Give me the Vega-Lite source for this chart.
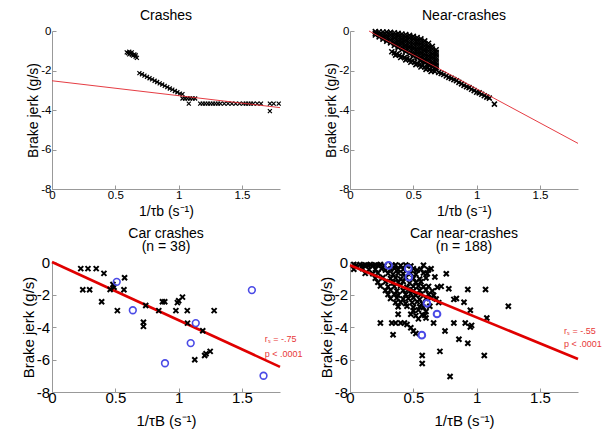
{
"$schema": "https://vega.github.io/schema/vega-lite/v6.json",
"padding": {"left": 21, "top": 9, "right": 5, "bottom": 0},
"config": {
  "font": "Liberation Sans",
  "view": {"stroke": null},
  "axis": {"grid": false, "domainColor": "#999999", "tickColor": "#999999", "tickSize": -4, "labelColor": "black", "titleColor": "black", "titleFontWeight": "normal", "labelFont": "Liberation Sans", "titleFont": "Liberation Sans", "labelOverlap": false, "labelBound": false, "labelFlush": false, "tickCount": 10},
  "title": {"fontWeight": "normal", "font": "Liberation Sans", "fontSize": 14, "color": "black", "frame": "group"}
},
"datasets": {
  "tl_pts": [
    {"x":0.59,"y":-1.08},{"x":0.60,"y":-1.12},{"x":0.61,"y":-1.05},{"x":0.61,"y":-1.18},{"x":0.62,"y":-1.12},{"x":0.63,"y":-1.2},{"x":0.63,"y":-1.08},{"x":0.64,"y":-1.25},{"x":0.65,"y":-1.18},{"x":0.66,"y":-1.3},{"x":0.67,"y":-1.36},{"x":0.66,"y":-1.22},
    {"x":0.69,"y":-2.13},{"x":0.71,"y":-2.19},{"x":0.73,"y":-2.26},{"x":0.75,"y":-2.32},{"x":0.77,"y":-2.39},{"x":0.79,"y":-2.45},{"x":0.81,"y":-2.52},{"x":0.83,"y":-2.58},{"x":0.85,"y":-2.65},{"x":0.87,"y":-2.71},{"x":0.89,"y":-2.78},{"x":0.91,"y":-2.84},{"x":0.93,"y":-2.91},{"x":0.95,"y":-2.97},{"x":0.97,"y":-3.04},{"x":0.99,"y":-3.1},{"x":1.01,"y":-3.17},{"x":1.03,"y":-3.2},
    {"x":1.03,"y":-3.42},{"x":1.05,"y":-3.42},{"x":1.07,"y":-3.42},{"x":1.09,"y":-3.42},{"x":1.11,"y":-3.42},{"x":1.13,"y":-3.42},
    {"x":1.08,"y":-3.68},
    {"x":1.17,"y":-3.68},{"x":1.19,"y":-3.68},{"x":1.21,"y":-3.68},{"x":1.23,"y":-3.68},{"x":1.25,"y":-3.68},{"x":1.27,"y":-3.68},{"x":1.29,"y":-3.68},{"x":1.31,"y":-3.68},{"x":1.33,"y":-3.68},{"x":1.36,"y":-3.68},{"x":1.39,"y":-3.68},{"x":1.42,"y":-3.68},{"x":1.45,"y":-3.68},{"x":1.48,"y":-3.68},{"x":1.51,"y":-3.68},{"x":1.53,"y":-3.68},{"x":1.55,"y":-3.68},{"x":1.57,"y":-3.68},{"x":1.59,"y":-3.68},{"x":1.62,"y":-3.68},{"x":1.65,"y":-3.68},{"x":1.72,"y":-3.68},{"x":1.75,"y":-3.68},{"x":1.79,"y":-3.68},
    {"x":1.72,"y":-4.06}
  ],
  "tl_fit": [{"x":0,"y":-2.52},{"x":1.8,"y":-3.88}],
  "tr_pts": [
    {"x":0.20,"y":-0.03},{"x":0.20,"y":-0.12},{"x":0.20,"y":-0.2},
    {"x":0.23,"y":-0.04},{"x":0.23,"y":-0.17},{"x":0.23,"y":-0.3},
    {"x":0.26,"y":-0.05},{"x":0.26,"y":-0.18},{"x":0.26,"y":-0.3},{"x":0.26,"y":-0.41},
    {"x":0.29,"y":-0.06},{"x":0.29,"y":-0.19},{"x":0.29,"y":-0.32},{"x":0.29,"y":-0.45},{"x":0.29,"y":-0.52},
    {"x":0.32,"y":-0.07},{"x":0.32,"y":-0.2},{"x":0.32,"y":-0.33},{"x":0.32,"y":-0.46},{"x":0.32,"y":-0.6},
    {"x":0.35,"y":-0.09},{"x":0.35,"y":-0.22},{"x":0.35,"y":-0.35},{"x":0.35,"y":-0.48},{"x":0.35,"y":-0.61},{"x":0.35,"y":-0.73},
    {"x":0.38,"y":-0.12},{"x":0.38,"y":-0.25},{"x":0.38,"y":-0.38},{"x":0.38,"y":-0.51},{"x":0.38,"y":-0.64},{"x":0.38,"y":-0.77},{"x":0.38,"y":-0.85},
    {"x":0.41,"y":-0.15},{"x":0.41,"y":-0.28},{"x":0.41,"y":-0.41},{"x":0.41,"y":-0.54},{"x":0.41,"y":-0.67},{"x":0.41,"y":-0.8},{"x":0.41,"y":-0.94},
    {"x":0.44,"y":-0.18},{"x":0.44,"y":-0.31},{"x":0.44,"y":-0.44},{"x":0.44,"y":-0.57},{"x":0.44,"y":-0.7},{"x":0.44,"y":-0.83},{"x":0.44,"y":-0.96},{"x":0.44,"y":-1.05},
    {"x":0.47,"y":-0.22},{"x":0.47,"y":-0.35},{"x":0.47,"y":-0.48},{"x":0.47,"y":-0.61},{"x":0.47,"y":-0.74},{"x":0.47,"y":-0.87},{"x":0.47,"y":-1.0},{"x":0.47,"y":-1.15},
    {"x":0.50,"y":-0.27},{"x":0.50,"y":-0.4},{"x":0.50,"y":-0.53},{"x":0.50,"y":-0.66},{"x":0.50,"y":-0.79},{"x":0.50,"y":-0.92},{"x":0.50,"y":-1.05},{"x":0.50,"y":-1.18},{"x":0.50,"y":-1.27},
    {"x":0.53,"y":-0.33},{"x":0.53,"y":-0.46},{"x":0.53,"y":-0.59},{"x":0.53,"y":-0.72},{"x":0.53,"y":-0.85},{"x":0.53,"y":-0.98},{"x":0.53,"y":-1.11},{"x":0.53,"y":-1.24},{"x":0.53,"y":-1.37},
    {"x":0.56,"y":-0.4},{"x":0.56,"y":-0.53},{"x":0.56,"y":-0.66},{"x":0.56,"y":-0.79},{"x":0.56,"y":-0.92},{"x":0.56,"y":-1.05},{"x":0.56,"y":-1.18},{"x":0.56,"y":-1.31},{"x":0.56,"y":-1.44},{"x":0.56,"y":-1.5},
    {"x":0.59,"y":-0.5},{"x":0.59,"y":-0.63},{"x":0.59,"y":-0.76},{"x":0.59,"y":-0.89},{"x":0.59,"y":-1.02},{"x":0.59,"y":-1.15},{"x":0.59,"y":-1.28},{"x":0.59,"y":-1.41},{"x":0.59,"y":-1.54},{"x":0.59,"y":-1.6},
    {"x":0.62,"y":-0.62},{"x":0.62,"y":-0.75},{"x":0.62,"y":-0.88},{"x":0.62,"y":-1.01},{"x":0.62,"y":-1.14},{"x":0.62,"y":-1.27},{"x":0.62,"y":-1.4},{"x":0.62,"y":-1.53},{"x":0.62,"y":-1.66},{"x":0.62,"y":-1.71},
    {"x":0.65,"y":-0.78},{"x":0.65,"y":-0.91},{"x":0.65,"y":-1.04},{"x":0.65,"y":-1.17},{"x":0.65,"y":-1.3},{"x":0.65,"y":-1.43},{"x":0.65,"y":-1.56},{"x":0.65,"y":-1.69},{"x":0.65,"y":-1.82},
    {"x":0.68,"y":-0.95},{"x":0.68,"y":-1.08},{"x":0.68,"y":-1.21},{"x":0.68,"y":-1.34},{"x":0.68,"y":-1.47},{"x":0.68,"y":-1.6},{"x":0.68,"y":-1.73},{"x":0.68,"y":-1.86},{"x":0.68,"y":-1.95},
    {"x":0.33,"y":-1.05},{"x":0.35,"y":-1.11},{"x":0.37,"y":-1.17},{"x":0.39,"y":-1.23},{"x":0.41,"y":-1.29},{"x":0.43,"y":-1.35},{"x":0.45,"y":-1.4},{"x":0.47,"y":-1.46},{"x":0.49,"y":-1.52},{"x":0.51,"y":-1.58},{"x":0.53,"y":-1.64},{"x":0.55,"y":-1.7},{"x":0.57,"y":-1.76},{"x":0.59,"y":-1.82},{"x":0.61,"y":-1.87},{"x":0.63,"y":-1.93},{"x":0.65,"y":-1.99},{"x":0.67,"y":-2.05},
    {"x":0.36,"y":-1.22},{"x":0.40,"y":-1.34},{"x":0.44,"y":-1.46},{"x":0.48,"y":-1.58},{"x":0.52,"y":-1.7},{"x":0.56,"y":-1.82},{"x":0.60,"y":-1.94},{"x":0.64,"y":-2.05},
    {"x":0.70,"y":-2.1},{"x":0.72,"y":-2.15},{"x":0.74,"y":-2.2},{"x":0.76,"y":-2.28},{"x":0.78,"y":-2.35},{"x":0.80,"y":-2.4},{"x":0.82,"y":-2.46},{"x":0.84,"y":-2.52},{"x":0.86,"y":-2.6},{"x":0.88,"y":-2.68},{"x":0.90,"y":-2.75},{"x":0.92,"y":-2.82},{"x":0.94,"y":-2.87},{"x":0.96,"y":-2.95},{"x":0.98,"y":-3.02},{"x":1.00,"y":-3.1},{"x":1.02,"y":-3.13},{"x":1.04,"y":-3.2},{"x":1.06,"y":-3.28},{"x":1.08,"y":-3.35},{"x":1.10,"y":-3.4},
    {"x":1.14,"y":-3.7}
  ],
  "tr_fit": [{"x":0.15,"y":0},{"x":1.8,"y":-5.69}],
  "bl_x": [
    {"x":0.227,"y":-0.41},{"x":0.284,"y":-0.41},{"x":0.349,"y":-0.41},{"x":0.41,"y":-0.7},{"x":0.243,"y":-1.71},{"x":0.297,"y":-1.71},{"x":0.392,"y":-2.45},{"x":0.459,"y":-1.69},{"x":0.481,"y":-1.38},{"x":0.49,"y":-1.55},{"x":0.573,"y":-0.97},{"x":0.568,"y":-1.71},{"x":0.516,"y":-2.99},{"x":0.722,"y":-3.71},{"x":0.722,"y":-3.96},{"x":0.74,"y":-2.68},{"x":0.843,"y":-2.99},{"x":0.872,"y":-2.45},{"x":0.89,"y":-2.45},{"x":0.978,"y":-2.99},{"x":0.99,"y":-2.5},{"x":1.0,"y":-2.38},{"x":1.03,"y":-2.16},{"x":1.068,"y":-2.99},{"x":1.07,"y":-3.76},{"x":1.19,"y":-4.23},{"x":1.127,"y":-6.02},{"x":1.205,"y":-5.75},{"x":1.216,"y":-5.65},{"x":1.249,"y":-5.5},{"x":1.28,"y":-2.99}
  ],
  "bl_o": [
    {"x":0.511,"y":-1.22},{"x":0.638,"y":-2.97},{"x":1.135,"y":-3.76},{"x":1.095,"y":-4.99},{"x":0.892,"y":-6.23},{"x":1.578,"y":-1.73},{"x":1.67,"y":-7.0}
  ],
  "bl_fit": [{"x":0,"y":0},{"x":1.8,"y":-6.45}],
  "bl_txt": [{"x":1.68,"y":-4.72,"t":"rₛ = -.75"},{"x":1.68,"y":-5.65,"t":"p < .0001"}],
  "br_x": [
    {"x":0.03,"y":-0.16},{"x":0.05,"y":-0.2},{"x":0.08,"y":-0.15},{"x":0.10,"y":-0.22},{"x":0.12,"y":-0.18},{"x":0.14,"y":-0.2},{"x":0.16,"y":-0.15},{"x":0.18,"y":-0.22},{"x":0.20,"y":-0.18},{"x":0.22,"y":-0.2},{"x":0.24,"y":-0.15},{"x":0.27,"y":-0.22},{"x":0.33,"y":-0.2},{"x":0.36,"y":-0.18},{"x":0.40,"y":-0.22},{"x":0.44,"y":-0.18},{"x":0.48,"y":-0.25},{"x":0.58,"y":-0.2},
    {"x":0.03,"y":-0.45},{"x":0.10,"y":-0.42},{"x":0.15,"y":-0.48},{"x":0.20,"y":-0.45},{"x":0.25,"y":-0.42},{"x":0.28,"y":-0.5},{"x":0.32,"y":-0.45},{"x":0.35,"y":-0.4},{"x":0.38,"y":-0.48},{"x":0.42,"y":-0.45},{"x":0.50,"y":-0.42},{"x":0.53,"y":-0.5},{"x":0.56,"y":-0.45},{"x":0.62,"y":-0.48},{"x":0.64,"y":-0.42},
    {"x":0.12,"y":-0.7},{"x":0.18,"y":-0.72},{"x":0.22,"y":-0.68},{"x":0.30,"y":-0.7},{"x":0.34,"y":-0.75},{"x":0.38,"y":-0.68},{"x":0.42,"y":-0.72},{"x":0.48,"y":-0.7},{"x":0.52,"y":-0.75},{"x":0.58,"y":-0.68},{"x":0.61,"y":-0.72},{"x":0.76,"y":-0.72},
    {"x":0.20,"y":-1.0},{"x":0.26,"y":-0.95},{"x":0.32,"y":-1.02},{"x":0.36,"y":-0.98},{"x":0.40,"y":-1.05},{"x":0.44,"y":-0.95},{"x":0.50,"y":-1.0},{"x":0.55,"y":-1.05},{"x":0.60,"y":-0.98},{"x":0.67,"y":-0.93},
    {"x":0.22,"y":-1.25},{"x":0.28,"y":-1.22},{"x":0.34,"y":-1.28},{"x":0.38,"y":-1.25},{"x":0.42,"y":-1.2},{"x":0.47,"y":-1.3},{"x":0.52,"y":-1.25},{"x":0.56,"y":-1.22},
    {"x":0.24,"y":-1.48},{"x":0.30,"y":-1.52},{"x":0.35,"y":-1.5},{"x":0.40,"y":-1.45},{"x":0.45,"y":-1.55},{"x":0.50,"y":-1.5},{"x":0.54,"y":-1.48},{"x":0.58,"y":-1.52},{"x":0.62,"y":-1.5},{"x":0.69,"y":-1.55},{"x":0.72,"y":-1.5},
    {"x":0.28,"y":-1.75},{"x":0.32,"y":-1.72},{"x":0.37,"y":-1.78},{"x":0.42,"y":-1.75},{"x":0.46,"y":-1.7},{"x":0.50,"y":-1.78},{"x":0.55,"y":-1.75},{"x":0.60,"y":-1.72},{"x":0.65,"y":-1.78},{"x":0.78,"y":-1.65},{"x":0.93,"y":-1.69},{"x":1.07,"y":-1.69},
    {"x":0.30,"y":-2.0},{"x":0.35,"y":-1.98},{"x":0.38,"y":-2.05},{"x":0.44,"y":-2.0},{"x":0.48,"y":-1.95},{"x":0.52,"y":-2.05},{"x":0.56,"y":-2.0},{"x":0.62,"y":-1.98},{"x":0.66,"y":-2.05},
    {"x":0.32,"y":-2.25},{"x":0.37,"y":-2.22},{"x":0.42,"y":-2.28},{"x":0.46,"y":-2.25},{"x":0.50,"y":-2.2},{"x":0.55,"y":-2.3},{"x":0.60,"y":-2.25},{"x":0.64,"y":-2.22},{"x":0.68,"y":-2.28},{"x":0.82,"y":-2.3},{"x":0.84,"y":-2.25},
    {"x":0.36,"y":-2.5},{"x":0.40,"y":-2.48},{"x":0.44,"y":-2.55},{"x":0.49,"y":-2.5},{"x":0.53,"y":-2.45},{"x":0.57,"y":-2.55},{"x":0.70,"y":-2.5},{"x":0.90,"y":-2.47},
    {"x":0.38,"y":-2.75},{"x":0.45,"y":-2.72},{"x":0.50,"y":-2.78},{"x":0.55,"y":-2.75},{"x":0.58,"y":-2.8},{"x":0.63,"y":-2.72},{"x":1.25,"y":-2.72},
    {"x":0.50,"y":-3.0},{"x":0.54,"y":-2.95},{"x":0.60,"y":-3.05},{"x":0.95,"y":-2.97},
    {"x":0.38,"y":-3.22},{"x":0.48,"y":-3.22},{"x":0.52,"y":-3.3},{"x":0.57,"y":-3.25},{"x":0.59,"y":-3.28},
    {"x":0.54,"y":-3.5},{"x":0.60,"y":-3.45},{"x":1.08,"y":-3.45},
    {"x":0.24,"y":-3.75},{"x":0.33,"y":-3.75},{"x":0.36,"y":-3.75},{"x":0.40,"y":-3.75},{"x":0.43,"y":-3.75},{"x":0.66,"y":-3.75},{"x":0.82,"y":-3.75},{"x":0.91,"y":-3.75},{"x":0.96,"y":-3.9},{"x":0.95,"y":-4.0},
    {"x":0.45,"y":-3.85},{"x":0.48,"y":-4.05},{"x":0.50,"y":-4.25},{"x":0.52,"y":-4.4},
    {"x":0.75,"y":-4.25},{"x":0.34,"y":-4.47},
    {"x":0.86,"y":-4.75},{"x":0.93,"y":-5.0},{"x":0.71,"y":-5.5},{"x":0.57,"y":-5.75},{"x":1.06,"y":-5.75},{"x":0.57,"y":-6.25},{"x":0.79,"y":-7.05}
  ],
  "br_o": [
    {"x":0.305,"y":-0.21},{"x":0.46,"y":-0.41},{"x":0.465,"y":-0.93},{"x":0.607,"y":-2.54},{"x":0.687,"y":-3.2},{"x":0.567,"y":-4.5}
  ],
  "br_fit": [{"x":0,"y":-0.2},{"x":1.8,"y":-5.97}],
  "br_txt": [{"x":1.69,"y":-4.23,"t":"rₛ = -.55"},{"x":1.69,"y":-5.05,"t":"p < .0001"}]
},
"spacing": 8,
"vconcat": [
  {
    "spacing": 40,
    "hconcat": [
      {
        "width": 228, "height": 158,
        "title": {"text": "Crashes", "offset": 2},
        "layer": [
          {"data": {"name": "tl_pts"},
           "mark": {"type": "point", "shape": "M-1,-1L1,1M-1,1L1,-1", "filled": false, "color": "black", "strokeWidth": 1.2, "size": 16, "opacity": 1},
           "encoding": {
             "x": {"field": "x", "type": "quantitative", "scale": {"domain": [0, 1.8], "nice": false, "zero": false}, "axis": {"values": [0, 0.5, 1, 1.5], "tickCount": 10, "labelExpr": "'' + datum.value", "labelFontSize": 11.5, "titleFontSize": 14, "labelPadding": 4, "titlePadding": 3.5, "title": "1/τb (s⁻¹)"}},
             "y": {"field": "y", "type": "quantitative", "scale": {"domain": [-8, 0], "nice": false}, "axis": {"values": [0, -2, -4, -6, -8], "tickCount": 10, "labelOverlap": false, "labelExpr": "'' + datum.value", "labelFontSize": 11.5, "titleFontSize": 14, "labelPadding": 5, "titlePadding": 0, "title": "Brake jerk (g/s)"}}
           }},
          {"data": {"name": "tl_fit"},
           "mark": {"type": "line", "color": "#e2262e", "strokeWidth": 0.9},
           "encoding": {"x": {"field": "x", "type": "quantitative"}, "y": {"field": "y", "type": "quantitative"}}}
        ]
      },
      {
        "width": 228, "height": 158,
        "title": {"text": "Near-crashes", "offset": 2},
        "layer": [
          {"data": {"name": "tr_pts"},
           "mark": {"type": "point", "shape": "M-1,-1L1,1M-1,1L1,-1", "filled": false, "color": "black", "strokeWidth": 1.6, "size": 25, "opacity": 1},
           "encoding": {
             "x": {"field": "x", "type": "quantitative", "scale": {"domain": [0, 1.8], "nice": false, "zero": false}, "axis": {"values": [0, 0.5, 1, 1.5], "tickCount": 10, "labelExpr": "'' + datum.value", "labelFontSize": 11.5, "titleFontSize": 14, "labelPadding": 4, "titlePadding": 3.5, "title": "1/τb (s⁻¹)"}},
             "y": {"field": "y", "type": "quantitative", "scale": {"domain": [-8, 0], "nice": false}, "axis": {"values": [0, -2, -4, -6, -8], "tickCount": 10, "labelOverlap": false, "labelExpr": "'' + datum.value", "labelFontSize": 11.5, "titleFontSize": 14, "labelPadding": 5, "titlePadding": 0, "title": "Brake jerk (g/s)"}}
           }},
          {"data": {"name": "tr_fit"},
           "mark": {"type": "line", "color": "#e2262e", "strokeWidth": 0.9},
           "encoding": {"x": {"field": "x", "type": "quantitative"}, "y": {"field": "y", "type": "quantitative"}}}
        ]
      }
    ]
  },
  {
    "spacing": 16,
    "hconcat": [
      {
        "width": 228, "height": 130,
        "title": {"text": ["Car crashes", "(n = 38)"], "offset": 1, "lineHeight": 13.5},
        "layer": [
          {"data": {"name": "bl_fit"},
           "mark": {"type": "line", "color": "#e00000", "strokeWidth": 2.6},
           "encoding": {
             "x": {"field": "x", "type": "quantitative", "scale": {"domain": [0, 1.8], "nice": false, "zero": false}, "axis": {"values": [0, 0.5, 1, 1.5], "tickCount": 10, "labelExpr": "'' + datum.value", "labelFontSize": 15, "titleFontSize": 15, "labelPadding": 2.5, "titlePadding": 8, "title": "1/τB (s⁻¹)"}},
             "y": {"field": "y", "type": "quantitative", "scale": {"domain": [-8, 0], "nice": false}, "axis": {"values": [0, -2, -4, -6, -8], "tickCount": 10, "labelOverlap": false, "labelExpr": "'' + datum.value", "labelFontSize": 15, "titleFontSize": 15, "labelPadding": 6.5, "titlePadding": 0, "title": "Brake jerk (g/s)"}}
           }},
          {"data": {"name": "bl_x"},
           "mark": {"type": "point", "shape": "M-1,-1L1,1M-1,1L1,-1", "filled": false, "color": "black", "strokeWidth": 2, "size": 25, "opacity": 1},
           "encoding": {"x": {"field": "x", "type": "quantitative"}, "y": {"field": "y", "type": "quantitative"}}},
          {"data": {"name": "bl_o"},
           "mark": {"type": "point", "shape": "circle", "filled": false, "color": "#4b4be6", "strokeWidth": 1.6, "size": 45, "opacity": 1},
           "encoding": {"x": {"field": "x", "type": "quantitative"}, "y": {"field": "y", "type": "quantitative"}}},
          {"data": {"name": "bl_txt"},
           "mark": {"type": "text", "align": "left", "baseline": "middle", "fontSize": 9, "color": "#e83838"},
           "encoding": {"x": {"field": "x", "type": "quantitative"}, "y": {"field": "y", "type": "quantitative"}, "text": {"field": "t"}}}
        ]
      },
      {
        "width": 228, "height": 130,
        "title": {"text": ["Car near-crashes", "(n = 188)"], "offset": 1, "lineHeight": 13.5},
        "layer": [
          {"data": {"name": "br_x"},
           "mark": {"type": "point", "shape": "M-1,-1L1,1M-1,1L1,-1", "filled": false, "color": "black", "strokeWidth": 2.1, "size": 25, "opacity": 1},
           "encoding": {
             "x": {"field": "x", "type": "quantitative", "scale": {"domain": [0, 1.8], "nice": false, "zero": false}, "axis": {"values": [0, 0.5, 1, 1.5], "tickCount": 10, "labelExpr": "'' + datum.value", "labelFontSize": 15, "titleFontSize": 15, "labelPadding": 2.5, "titlePadding": 8, "title": "1/τB (s⁻¹)"}},
             "y": {"field": "y", "type": "quantitative", "scale": {"domain": [-8, 0], "nice": false}, "axis": {"values": [0, -2, -4, -6, -8], "tickCount": 10, "labelOverlap": false, "labelExpr": "'' + datum.value", "labelFontSize": 15, "titleFontSize": 15, "labelPadding": 6.5, "titlePadding": 0, "title": "Brake jerk (g/s)"}}
           }},
          {"data": {"name": "br_o"},
           "mark": {"type": "point", "shape": "circle", "filled": false, "color": "#4b4be6", "strokeWidth": 2, "size": 45, "opacity": 1},
           "encoding": {"x": {"field": "x", "type": "quantitative"}, "y": {"field": "y", "type": "quantitative"}}},
          {"data": {"name": "br_fit"},
           "mark": {"type": "line", "color": "#e00000", "strokeWidth": 2.6},
           "encoding": {"x": {"field": "x", "type": "quantitative"}, "y": {"field": "y", "type": "quantitative"}}},
          {"data": {"name": "br_txt"},
           "mark": {"type": "text", "align": "left", "baseline": "middle", "fontSize": 9, "color": "#e83838"},
           "encoding": {"x": {"field": "x", "type": "quantitative"}, "y": {"field": "y", "type": "quantitative"}, "text": {"field": "t"}}}
        ]
      }
    ]
  }
]
}
